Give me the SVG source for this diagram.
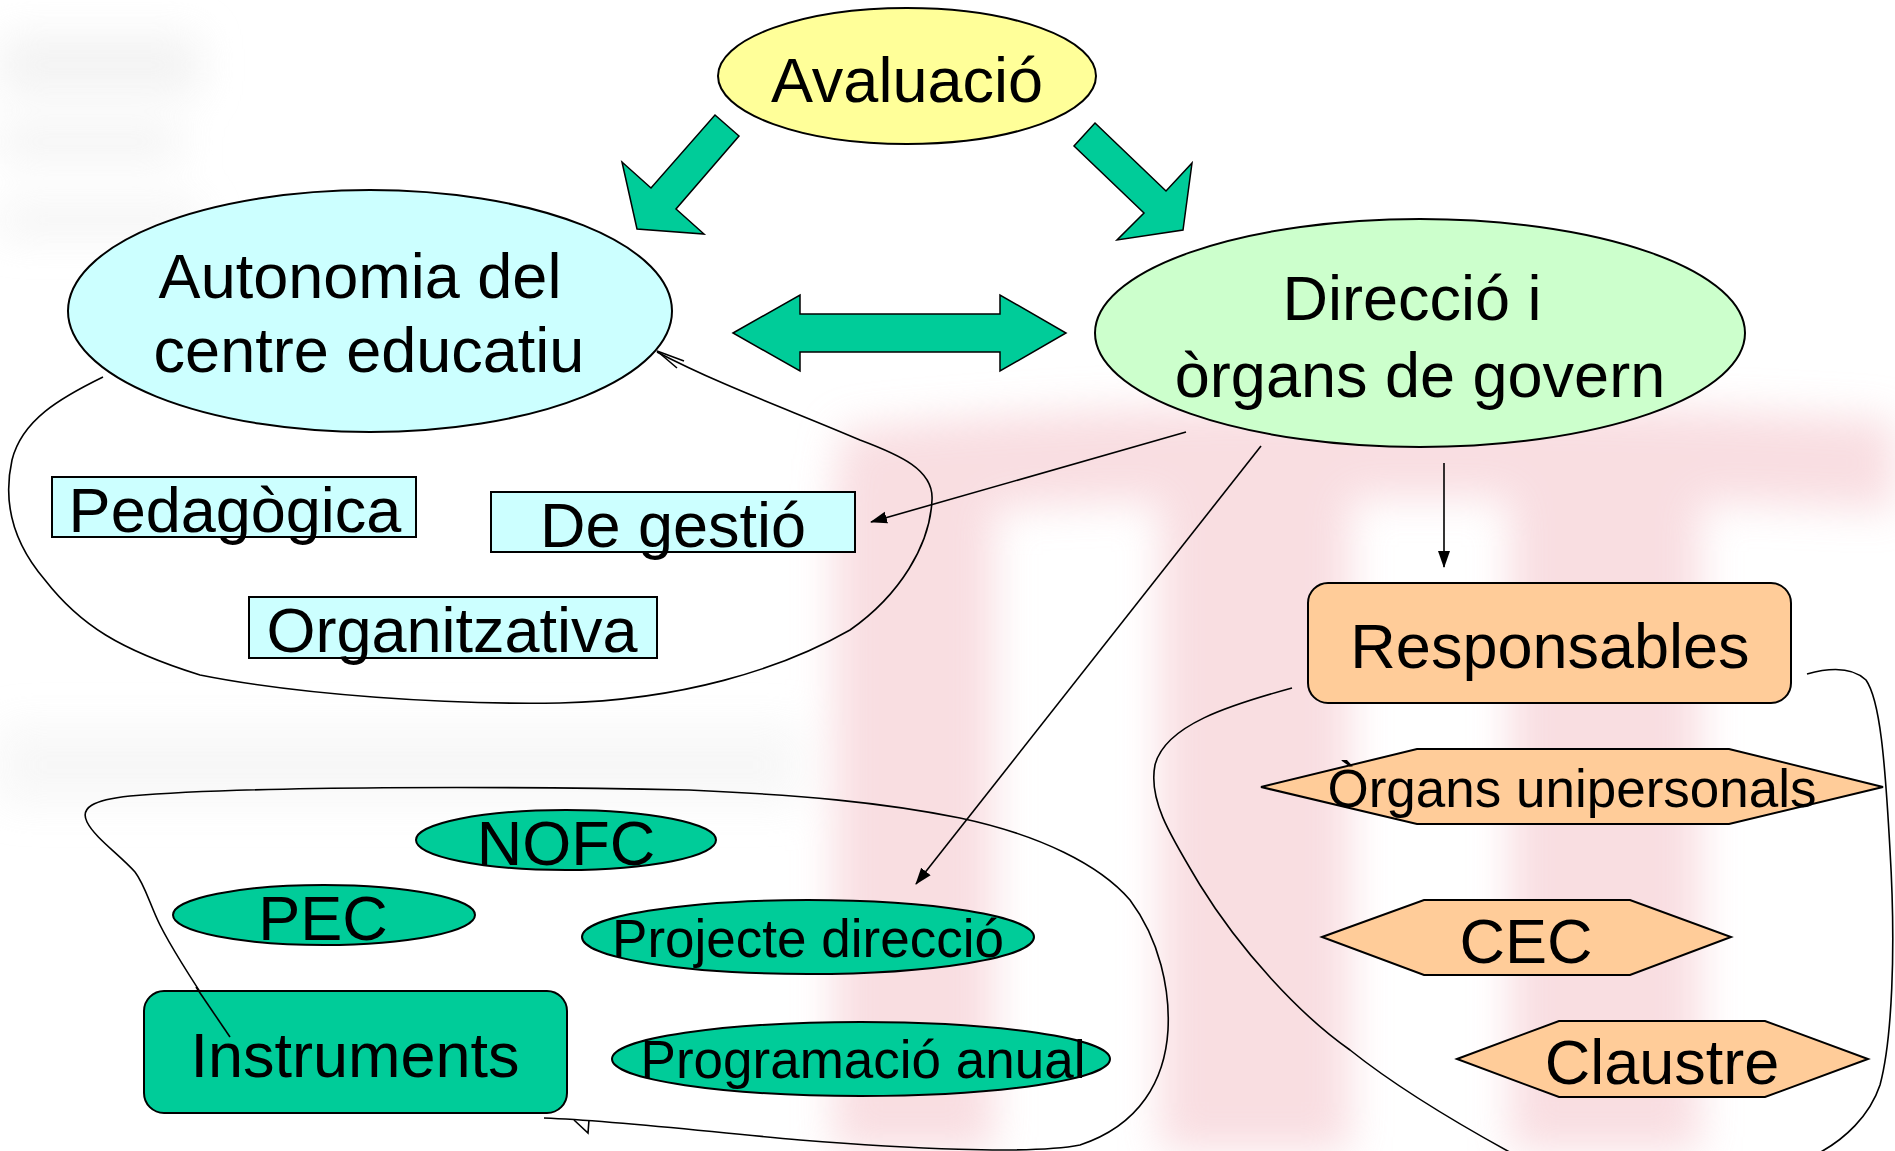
<svg xmlns="http://www.w3.org/2000/svg" width="1895" height="1151" viewBox="0 0 1895 1151">
<style>
.t{font-family:"Liberation Sans",Arial,sans-serif;font-size:63px;fill:#000;text-anchor:middle}
.s{font-size:53px}
.shape{stroke:#000;stroke-width:2}
.cyan{fill:#CCFFFF}
.teal{fill:#00CC99}
.peach{fill:#FFCC99}
.big{fill:#00CC99;stroke:#000;stroke-width:1.5}
.cur{fill:none;stroke:#000;stroke-width:1.6}
.ln{fill:none;stroke:#000;stroke-width:1.6}
</style>
<defs>
<marker id="ah" markerWidth="18" markerHeight="14" refX="16" refY="7" orient="auto" markerUnits="userSpaceOnUse">
<path d="M0,1 L17,7 L0,13 Z" fill="#000"/>
</marker>
<filter id="blur" x="-20%" y="-20%" width="140%" height="140%"><feGaussianBlur stdDeviation="20"/></filter>
</defs>
<rect width="1895" height="1151" fill="#fff"/>
<g id="watermark" filter="url(#blur)" opacity="0.75">
<g fill="#F7D3D8">
<path d="M840,430 C1100,400 1500,395 1895,420 L1895,510 C1500,490 1100,495 840,520 Z"/>
<rect x="834" y="470" width="160" height="681"/>
<rect x="1160" y="480" width="190" height="671"/>
<rect x="1510" y="480" width="190" height="671"/>
</g>
<g fill="#EFEFEF">
<rect x="0" y="35" width="200" height="60"/>
<rect x="0" y="125" width="180" height="35"/>
<rect x="0" y="205" width="200" height="30"/>
<rect x="0" y="725" width="800" height="80" opacity="0.6"/>
</g>
</g>

<g id="curves">
<path class="cur" d="M103,377 C60,398 22,420 12,460 C2,505 15,545 45,580 C80,625 120,650 200,675 C300,695 450,705 560,703 C680,700 780,670 850,630 C900,595 930,545 932,500 C934,470 900,455 860,440 C790,410 720,385 657,352"/>
<path class="cur" d="M684,361 L657,351 L677,368"/>
<path class="cur" d="M230,1037 C205,1000 175,955 160,925 C150,905 145,885 135,872 C120,855 95,838 87,822 C80,808 92,800 130,796 C250,786 500,786 689,790 C800,795 880,802 960,818 C1040,835 1100,865 1130,900 C1160,940 1170,990 1168,1030 C1165,1080 1140,1125 1080,1145 C1030,1155 900,1148 800,1140 C700,1131 620,1121 544,1118"/>
<path class="cur" d="M574,1120 L588,1133 L589,1120"/>
<path class="cur" d="M1292,688 C1230,705 1165,725 1155,765 C1148,800 1170,835 1200,885 C1240,950 1300,1015 1350,1050 C1400,1090 1460,1125 1515,1155"/>
<path class="cur" d="M1807,674 C1825,669 1850,665 1866,680 C1880,700 1885,760 1890,850 C1896,950 1892,1040 1880,1085 C1870,1115 1845,1140 1815,1155"/>
</g>

<g id="connectors">
<polygon class="big" points="715,115 739,136 676,209 704,234 637,229 622,162 651,188"/>
<polygon class="big" points="1095,123 1166,191 1192,163 1183,230 1117,240 1144,213 1074,146"/>
<polygon class="big" points="733,333 800,295 800,314 1000,314 1000,295 1066,333 1000,371 1000,352 800,352 800,371"/>
<line class="ln" x1="1186" y1="432" x2="871" y2="522" marker-end="url(#ah)"/>
<line class="ln" x1="1444" y1="463" x2="1444" y2="567" marker-end="url(#ah)"/>
<line class="ln" x1="1261" y1="446" x2="916" y2="884" marker-end="url(#ah)"/>
</g>

<g id="avaluacio">
<ellipse class="shape" cx="907" cy="76" rx="189" ry="68" fill="#FFFF99"/>
<text class="t" x="907" y="102">Avaluació</text>
</g>
<g id="autonomia">
<ellipse class="shape cyan" cx="370" cy="311" rx="302" ry="121"/>
<text class="t" x="360" y="298">Autonomia del</text>
<text class="t" x="369" y="372">centre educatiu</text>
</g>
<g id="direccio">
<ellipse class="shape" cx="1420" cy="333" rx="325" ry="114" fill="#CCFFCC"/>
<text class="t" x="1412" y="320">Direcció i</text>
<text class="t" x="1420" y="397">òrgans de govern</text>
</g>
<g id="pedagogica">
<rect class="shape cyan" x="52" y="477" width="364" height="60"/>
<text class="t" x="235" y="532">Pedagògica</text>
</g>
<g id="gestio">
<rect class="shape cyan" x="491" y="492" width="364" height="60"/>
<text class="t" x="673" y="547">De gestió</text>
</g>
<g id="organitzativa">
<rect class="shape cyan" x="249" y="597" width="408" height="61"/>
<text class="t" x="452" y="652">Organitzativa</text>
</g>
<g id="responsables">
<rect class="shape peach" x="1308" y="583" width="483" height="120" rx="20" ry="20"/>
<text class="t" x="1550" y="668">Responsables</text>
</g>
<g id="unipersonals">
<polygon class="shape peach" points="1261,787 1417,749 1729,749 1883,787 1729,824 1417,824"/>
<text class="t s" x="1572" y="807">Òrgans unipersonals</text>
</g>
<g id="cec">
<polygon class="shape peach" points="1322,937 1424,900 1630,900 1731,937 1630,975 1424,975"/>
<text class="t" x="1526" y="963">CEC</text>
</g>
<g id="claustre">
<polygon class="shape peach" points="1457,1059 1559,1021 1765,1021 1868,1059 1765,1097 1559,1097"/>
<text class="t" x="1662" y="1084">Claustre</text>
</g>
<g id="nofc">
<ellipse class="shape teal" cx="566" cy="840" rx="150" ry="30"/>
<text class="t" x="566" y="865">NOFC</text>
</g>
<g id="pec">
<ellipse class="shape teal" cx="324" cy="915" rx="151" ry="30"/>
<text class="t" x="323" y="940">PEC</text>
</g>
<g id="projecte">
<ellipse class="shape teal" cx="808" cy="937" rx="226" ry="37"/>
<text class="t s" x="808" y="957">Projecte direcció</text>
</g>
<g id="programacio">
<ellipse class="shape teal" cx="861" cy="1059" rx="249" ry="37"/>
<text class="t s" x="863" y="1078">Programació anual</text>
</g>
<g id="instruments">
<rect class="shape teal" x="144" y="991" width="423" height="122" rx="20" ry="20"/>
<text class="t" x="355" y="1077">Instruments</text>
</g>
<path class="cur" d="M230,1037 C215,1015 205,1000 196,987"/>
</svg>
